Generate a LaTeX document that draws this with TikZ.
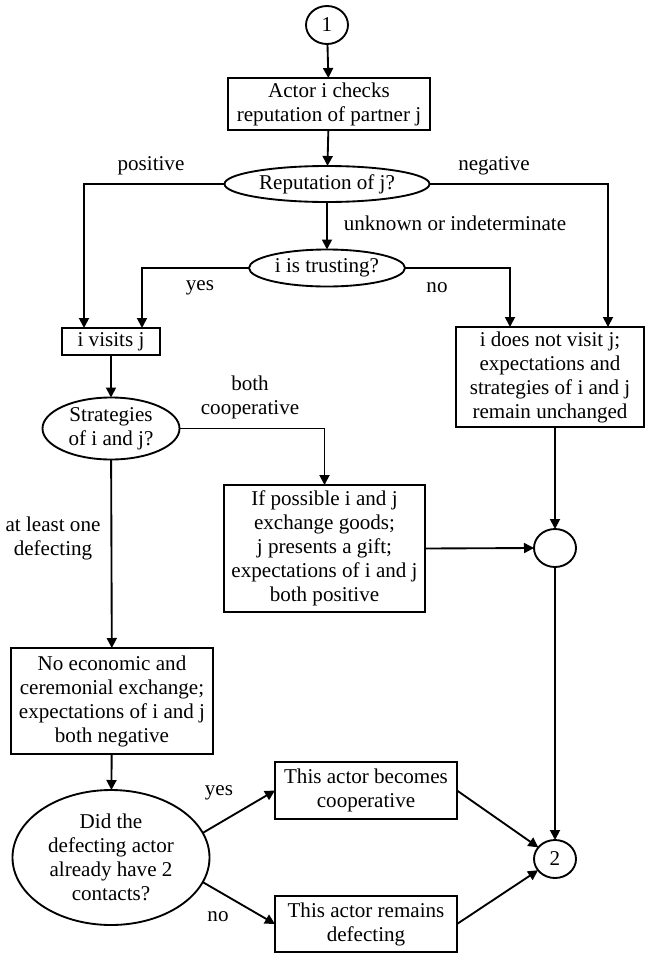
\documentclass[tikz,border=0pt]{standalone}
\usepackage{fontspec}
\setmainfont{Liberation Serif}
\usetikzlibrary{shapes.geometric,arrows.meta}
\begin{document}
\begin{tikzpicture}[x=0.75pt,y=-0.75pt,
  every node/.style={font=\fontsize{15.8}{18}\selectfont, inner sep=0pt, outer sep=0pt},
  box/.style={draw, line width=1.4pt, rectangle, align=center},
  oval/.style={draw, line width=1.4pt, ellipse, align=center},
  conn/.style={line width=1.4pt},
  arr/.style={conn, -{Triangle[length=7.5pt,width=7.5pt]}},
  lbl/.style={align=center}]
\useasboundingbox (0,0) rectangle (645,953);
% nodes
\node[oval, minimum width=31.5pt, minimum height=28.5pt] (c1) at (327,25) {1};
\node[box, minimum width=151.5pt, minimum height=39pt] (check) at (329,104) {Actor i checks\\reputation of partner j};
\node[oval, minimum width=153.75pt, minimum height=27pt] (rep) at (327,184) {Reputation of j?};
\node[oval, minimum width=117pt, minimum height=27.75pt] (trust) at (327,268) {i is trusting?};
\node[box, minimum width=73.5pt, minimum height=20.25pt] (visit) at (111,341.5) {i visits j};
\node[box, minimum width=141pt, minimum height=75pt] (novisit) at (550,377) {i does not visit j;\\expectations and\\strategies of i and j\\remain unchanged};
\node[oval, minimum width=102.75pt, minimum height=46.5pt] (strat) at (111,428.5) {Strategies\\of i and j?};
\node[box, minimum width=150.75pt, minimum height=95.25pt] (poss) at (324.5,548.5) {If possible i and j\\exchange goods;\\j presents a gift;\\expectations of i and j\\both positive};
\node[oval, minimum width=31.5pt, minimum height=28.5pt] (cm) at (555,548) {};
\node[box, minimum width=151.5pt, minimum height=79.5pt] (noecon) at (112,701) {No economic and\\ceremonial exchange;\\expectations of i and j\\both negative};
\node[oval, minimum width=147.75pt, minimum height=101.25pt] (did) at (111,857.5) {Did the\\defecting actor\\already have 2\\contacts?};
\node[box, minimum width=136.5pt, minimum height=42.75pt] (becomes) at (366,790.5) {This actor becomes\\cooperative};
\node[box, minimum width=136.5pt, minimum height=42pt] (remains) at (366,924) {This actor remains\\defecting};
\node[oval, minimum width=31.5pt, minimum height=28.5pt] (c2) at (555,859) {2};
% labels
\node[lbl] (lpos) at (151,166) {positive};
\node[lbl] (lneg) at (494,166) {negative};
\node[lbl] (lunk) at (455,223) {unknown or indeterminate};
\node[lbl] (lyes1) at (200,288) {yes};
\node[lbl] (lno1) at (437,288) {no};
\node[lbl] (lboth) at (250,397) {both\\cooperative};
\node[lbl] (ldef) at (53,538.5) {at least one\\defecting};
\node[lbl] (lyes2) at (219,793) {yes};
\node[lbl] (lno2) at (218,917) {no};
% connectors
\draw[arr] (c1) -- (check);
\draw[arr] (check) -- (rep);
\draw[arr] (rep.west) -| ([xshift=16.5pt]visit.north west);
\draw[arr] (rep.east) -| ([xshift=-27pt]novisit.north east);
\draw[arr] (rep) -- (trust);
\draw[arr] (trust.west) -| ([xshift=-13.5pt]visit.north east);
\draw[arr] (trust.east) -| ([xshift=40.5pt]novisit.north west);
\draw[arr] (visit) -- (strat);
\draw[arr] (strat.east) -| (poss.north);
\draw[arr] (strat) -- (noecon);
\draw[arr] (poss.east) -- (cm.west);
\draw[arr] (novisit.south -| cm.north) -- (cm.north);
\draw[arr] (cm) -- (c2);
\draw[arr] (noecon) -- (did);
\draw[arr] (did.15) -- (becomes.west);
\draw[arr] (did.-15) -- (remains.west);
\draw[arr] (becomes.east) -- (c2);
\draw[arr] (remains.east) -- (c2);
\end{tikzpicture}
\end{document}
